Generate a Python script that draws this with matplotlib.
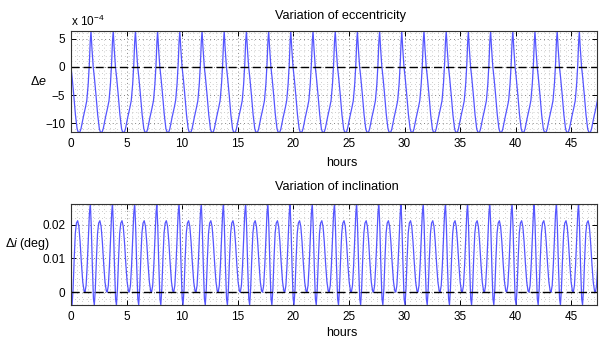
import numpy as np
import matplotlib.pyplot as plt
from matplotlib.ticker import MultipleLocator

plt.rcParams['font.family'] = ['Liberation Sans', 'DejaVu Sans']
plt.rcParams['mathtext.fontset'] = 'custom'
plt.rcParams['mathtext.rm'] = 'Liberation Sans'
plt.rcParams['mathtext.it'] = 'Liberation Sans:italic'

# Eccentricity: shape of one orbit cycle
# (hours after the peak, value in units of 1e-4)
ecc_offset = [0.00, 0.08, 0.20, 0.30, 0.45, 0.60, 0.75, 0.85, 1.00, 1.10,
              1.30, 1.50, 1.62, 1.75, 1.85, 1.93]
ecc_value = [6.4, 3.5, 0.0, -1.8, -5.0, -8.5, -11.0, -11.6, -11.6, -11.0,
             -9.0, -7.2, -6.0, -3.0, 0.5, 4.5]
# peak times (hours)
ecc_peaks = [-0.20, 1.80, 3.80, 5.80, 7.79, 9.79, 11.79, 13.78, 15.78, 17.78,
             19.77, 21.77, 23.77, 25.76, 27.76, 29.75, 31.75, 33.75, 35.74,
             37.74, 39.74, 41.73, 43.73, 45.72, 47.72]

# Inclination: one cycle (hours after the big peak, value in deg)
inc_offset = [0.00, 0.08, 0.18, 0.28, 0.36, 0.45, 0.55, 0.65, 0.75, 0.86,
              0.97, 1.08, 1.20, 1.32, 1.44, 1.52, 1.62, 1.72, 1.82, 1.92]
inc_value = [0.0263, 0.0200, 0.0080, -0.0020, -0.0038, 0.0010, 0.0100,
             0.0175, 0.0205, 0.0212, 0.0195, 0.0150, 0.0085, 0.0030,
             0.0003, 0.0, 0.0020, 0.0080, 0.0160, 0.0235]
inc_peaks = [-0.26, 1.74, 3.73, 5.73, 7.72, 9.72, 11.72, 13.71, 15.71, 17.71,
             19.70, 21.70, 23.70, 25.69, 27.69, 29.68, 31.68, 33.68, 35.67,
             37.67, 39.67, 41.66, 43.66, 45.65, 47.65]


def build(peaks, offset, value):
    t, v = [], []
    for p in peaks:
        t.extend(p + o for o in offset)
        v.extend(value)
    return np.array(t), np.array(v)


t_e, v_e = build(ecc_peaks, ecc_offset, ecc_value)
t_i, v_i = build(inc_peaks, inc_offset, inc_value)

fig = plt.figure(figsize=(5.99, 3.45), dpi=100)
ax1 = fig.add_axes([0.1185, 0.617, 0.878, 0.293])
ax2 = fig.add_axes([0.1185, 0.116, 0.878, 0.293])

blue = '#5555ff'
for ax, t, v in [(ax1, t_e, v_e), (ax2, t_i, v_i)]:
    ax.plot(t, v, color=blue, lw=0.9)
    ax.axhline(0, color='k', lw=1.0, dashes=(5.8, 2.9))
    ax.set_xlim(0, 47.3)
    ax.xaxis.set_major_locator(MultipleLocator(5))
    ax.xaxis.set_minor_locator(MultipleLocator(0.5))
    ax.grid(which='minor', color='0.62', lw=0.5, ls=(0, (1, 4.5)))
    ax.grid(which='major', color='0.35', lw=0.6, ls=(0, (1, 3.5)))
    ax.tick_params(which='major', direction='in', top=True, right=True,
                   length=3.5, width=0.7, labelsize=8.5, pad=4)
    ax.tick_params(which='minor', length=0)
    for s in ax.spines.values():
        s.set_linewidth(0.8)
        s.set_color('0.2')
    ax.set_xlabel('hours', fontsize=9)

ax1.xaxis.set_label_coords(0.515, -0.25)
ax2.xaxis.set_label_coords(0.515, -0.215)

ax1.set_ylim(-11.6, 6.4)
ax1.yaxis.set_major_locator(MultipleLocator(5))
ax1.yaxis.set_minor_locator(MultipleLocator(1))
ax1.set_title('Variation of eccentricity', fontsize=9.2, pad=9, x=0.512)
ax1.text(0, 1.05, r'x 10$^{-4}$', transform=ax1.transAxes, fontsize=8.5,
         ha='left', va='baseline')
ax1.set_ylabel(r'$\Delta e$', fontsize=9, rotation=0, ha='right', va='center')
ax1.yaxis.set_label_coords(-0.045, 0.5)

ax2.set_ylim(-0.0038, 0.0262)
ax2.yaxis.set_major_locator(MultipleLocator(0.01))
ax2.yaxis.set_minor_locator(MultipleLocator(0.002))
ax2.set_yticks([0, 0.01, 0.02])
ax2.set_yticklabels(['0', '0.01', '0.02'])
ax2.set_title('Variation of inclination', fontsize=9.2, pad=10, x=0.505)
ax2.set_ylabel(r'$\Delta i$ (deg)', fontsize=9, rotation=0, ha='right', va='center')
ax2.yaxis.set_label_coords(-0.04, 0.6)

fig.savefig('out.png', dpi=100)
